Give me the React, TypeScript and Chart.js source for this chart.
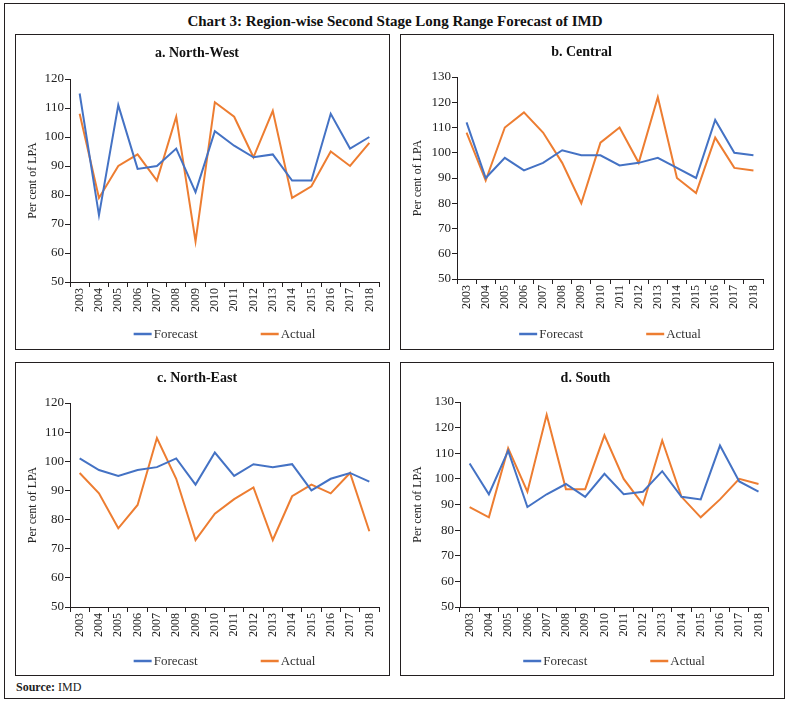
import React, { useEffect, useRef } from "react";
import { Chart, registerables } from "chart.js";

Chart.register(...registerables);

const years = ["2003", "2004", "2005", "2006", "2007", "2008", "2009", "2010", "2011", "2012", "2013", "2014", "2015", "2016", "2017", "2018"];
const seriesNames = ["Forecast", "Actual"];

const nwForecast = [115, 73, 111, 89, 90, 96, 81, 102, 97, 93, 94, 85, 85, 108, 96, 100];
const nwActual = [108, 79, 90, 94, 85, 107, 64, 112, 107, 93, 109, 79, 83, 95, 90, 98];
const centralForecast = [112, 90, 98, 93, 96, 101, 99, 99, 95, 96, 98, 94, 90, 113, 100, 99];
const centralActual = [108, 89, 110, 116, 108, 96, 80, 104, 110, 96, 122, 90, 84, 106, 94, 93];
const neForecast = [101, 97, 95, 97, 98, 101, 92, 103, 95, 99, 98, 99, 90, 94, 96, 93];
const neActual = [96, 89, 77, 85, 108, 94, 73, 82, 87, 91, 73, 88, 92, 89, 96, 76];
const southForecast = [106, 94, 111, 89, 94, 98, 93, 102, 94, 95, 103, 93, 92, 113, 99, 95];
const southActual = [89, 85, 112, 95, 125, 96, 96, 117, 100, 90, 115, 93, 85, 92, 100, 98];

const yMin = 50;
const yStep = 10;

const BLUE = "#4472C4";
const ORANGE = "#ED7D31";
const INK = "#231f20";
const FONT = "'Liberation Serif', 'DejaVu Serif', serif";

const lineLegendPlugin = {
  id: "lineLegend",
  afterDraw(chart: any, _args: any, opts: any) {
    const ctx = chart.ctx;
    const area = chart.chartArea;
    const cx = (area.left + area.right) / 2;
    const y = opts.y;
    const lineLen = 18;
    const gap = 2;
    const spacing = 63;
    ctx.save();
    ctx.font = `13px ${FONT}`;
    ctx.textBaseline = "middle";
    const items = chart.data.datasets.map((d: any) => ({
      label: d.label,
      color: d.borderColor,
      w: ctx.measureText(d.label).width,
    }));
    let total = 0;
    items.forEach((it: any, i: number) => {
      total += lineLen + gap + it.w + (i < items.length - 1 ? spacing : 0);
    });
    let x = cx - total / 2;
    items.forEach((it: any) => {
      ctx.strokeStyle = it.color;
      ctx.lineWidth = 2.5;
      ctx.beginPath();
      ctx.moveTo(x, y);
      ctx.lineTo(x + lineLen, y);
      ctx.stroke();
      ctx.fillStyle = "#333";
      ctx.fillText(it.label, x + lineLen + gap, y + 1);
      x += lineLen + gap + it.w + spacing;
    });
    ctx.restore();
  },
};

type PanelProps = {
  title: string;
  forecast: number[];
  actual: number[];
  yMax: number;
  left: number;
  top: number;
  width: number;
  height: number;
  yW: number;
  padRight: number;
  titleY: number;
  plotTop: number;
  plotBottom: number;
  legendY: number;
};

function Panel(p: PanelProps) {
  const ref = useRef<HTMLCanvasElement | null>(null);
  useEffect(() => {
    if (!ref.current) return;
    const titleLH = 14 * 1.2;
    const titlePadTop = p.titleY - titleLH / 2;
    const titlePadBottom = p.plotTop - titlePadTop - titleLH;
    const xH = 34;
    const padBottom = p.height - p.plotBottom - xH;
    const chart = new Chart(ref.current, {
      type: "line",
      data: {
        labels: years,
        datasets: [
          { label: seriesNames[0], data: p.forecast, borderColor: BLUE, backgroundColor: BLUE, borderWidth: 2, pointRadius: 0, tension: 0 },
          { label: seriesNames[1], data: p.actual, borderColor: ORANGE, backgroundColor: ORANGE, borderWidth: 2, pointRadius: 0, tension: 0 },
        ],
      },
      options: {
        animation: false,
        responsive: true,
        maintainAspectRatio: false,
        layout: { padding: { top: 0, left: 0, right: p.padRight, bottom: padBottom } },
        plugins: {
          legend: { display: false },
          tooltip: { enabled: false },
          title: {
            display: true,
            text: p.title,
            color: "#111",
            font: { family: FONT, size: 14, weight: "bold", lineHeight: 1.2 },
            padding: { top: titlePadTop, bottom: titlePadBottom },
          },
          lineLegend: { y: p.legendY },
        } as any,
        scales: {
          x: {
            type: "category",
            offset: true,
            grid: { offset: true, drawOnChartArea: false, drawTicks: true, tickLength: 5, color: INK, lineWidth: 1 },
            border: { color: INK, width: 1 },
            ticks: { autoSkip: false, maxRotation: 90, minRotation: 90, padding: 1, color: "#222", font: { family: FONT, size: 12 } },
            afterFit: (s: any) => {
              s.height = xH;
            },
          },
          y: {
            min: yMin,
            max: p.yMax,
            ticks: { stepSize: yStep, padding: 1, color: "#222", font: { family: FONT, size: 13 } },
            grid: { drawOnChartArea: false, drawTicks: true, tickLength: 5, color: INK, lineWidth: 1 },
            border: { color: INK, width: 1 },
            title: {
              display: true,
              text: "Per cent of LPA",
              color: "#222",
              font: { family: FONT, size: 12 },
              padding: { top: 11, bottom: 0 },
            },
            afterFit: (s: any) => {
              s.width = p.yW;
            },
          },
        },
      },
      plugins: [lineLegendPlugin],
    });
    return () => chart.destroy();
  }, []);
  return (
    <>
      <div style={{ position: "absolute", left: p.left, top: p.top, width: p.width, height: p.height }}>
        <canvas ref={ref} />
      </div>
      <div
        style={{
          position: "absolute",
          left: p.left,
          top: p.top,
          width: p.width,
          height: p.height,
          border: `1.5px solid ${INK}`,
          boxSizing: "border-box",
          pointerEvents: "none",
        }}
      />
    </>
  );
}

export default function App() {
  return (
    <div style={{ position: "absolute", left: 0, top: 0, width: 790, height: 703, background: "#fff", fontFamily: FONT, color: "#111" }}>
      <div
        style={{
          position: "absolute",
          left: 4,
          top: 3,
          width: 781,
          height: 696,
          border: `1.5px solid ${INK}`,
          boxSizing: "border-box",
        }}
      />
      <div
        style={{
          position: "absolute",
          left: 0,
          width: 790,
          top: 11,
          textAlign: "center",
          fontSize: 15,
          fontWeight: "bold",
          lineHeight: "20px",
        }}
      >
        Chart 3: Region-wise Second Stage Long Range Forecast of IMD
      </div>
      <Panel title="a. North-West" forecast={nwForecast} actual={nwActual} yMax={120}
        left={15} top={34} width={375} height={316} yW={55} padRight={11} titleY={19} plotTop={45} plotBottom={248} legendY={300} />
      <Panel title="b. Central" forecast={centralForecast} actual={centralActual} yMax={130}
        left={400} top={34} width={374} height={316} yW={57} padRight={11} titleY={18} plotTop={43} plotBottom={245} legendY={300} />
      <Panel title="c. North-East" forecast={neForecast} actual={neActual} yMax={120}
        left={15} top={362} width={375} height={314} yW={55} padRight={11} titleY={16} plotTop={41} plotBottom={245} legendY={299} />
      <Panel title="d. South" forecast={southForecast} actual={southActual} yMax={130}
        left={400} top={362} width={374} height={314} yW={60} padRight={3} titleY={16} plotTop={40} plotBottom={245} legendY={299} />
      <div style={{ position: "absolute", left: 16, top: 679, fontSize: 12, lineHeight: "16px", color: "#222" }}>
        <b>Source:</b> IMD
      </div>
    </div>
  );
}
